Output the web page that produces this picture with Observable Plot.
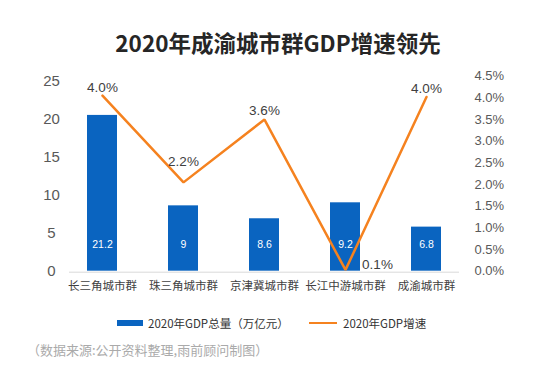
<!DOCTYPE html>
<html>
<head>
<meta charset="utf-8">
<script src="https://cdn.jsdelivr.net/npm/d3@7"></script>
<script src="https://cdn.jsdelivr.net/npm/@observablehq/plot@0.6"></script>
<style>
  html, body { margin: 0; padding: 0; background: #fff; }
  body { width: 541px; height: 374px; overflow: hidden; font-family: "Noto Sans CJK SC", "Noto Sans", sans-serif; }
  #title { height: 62px; box-sizing: border-box; padding-top: 30px; padding-left: 15px; text-align: center; font-size: 22.5px; line-height: 24px; font-weight: 700; color: #262626; }
  #chart { height: 240px; }
  #chart svg { display: block; }
  #legend { position: relative; height: 30px; font-size: 11.5px; color: #333; }
  #legend .item { position: absolute; top: 0; height: 22px; display: flex; align-items: center; white-space: nowrap; }
  #caption { position: absolute; left: 27px; top: 340px; font-size: 13px; color: #aaaaaa; white-space: nowrap; line-height: 20px; }
</style>
</head>
<body>
<div id="title"></div>
<div id="chart"></div>
<div id="legend"></div>
<div id="caption"></div>
<script>
// ---- data ----
const categories = ["长三角城市群", "珠三角城市群", "京津冀城市群", "长江中游城市群", "成渝城市群"];
const gdpBarHeights = [20.5, 8.6, 6.9, 9.0, 5.8];          // bar heights as drawn (万亿元)
const gdpLabels = ["21.2", "9", "8.6", "9.2", "6.8"];       // printed values
const growthPoints = [4.05, 2.05, 3.5, 0.03, 4.02];         // line points as drawn (%)
const growthLabels = ["4.0%", "2.2%", "3.6%", "0.1%", "4.0%"];
const leftTicks = [0, 5, 10, 15, 20, 25];
const rightTicks = [0, 0.5, 1, 1.5, 2, 2.5, 3, 3.5, 4, 4.5];
const rightTickLabels = ["0.0%", "0.5%", "1.0%", "1.5%", "2.0%", "2.5%", "3.0%", "3.5%", "4.0%", "4.5%"];
const titleText = "2020年成渝城市群GDP增速领先";
const legendBar = "2020年GDP总量（万亿元）";
const legendLine = "2020年GDP增速";
const captionText = "（数据来源:公开资料整理,雨前顾问制图）";

// ---- build ----
const yMax = 25.66;
const k = yMax / 4.5; // maps % to left-axis units
const rows = categories.map((c, i) => ({
  cat: c, bar: gdpBarHeights[i], barLabel: gdpLabels[i],
  growth: growthPoints[i], growthLabel: growthLabels[i], i
}));
const axisFont = '"Liberation Sans", Arial, "Noto Sans CJK SC", sans-serif';
const orange = "#f5821f";
const blue = "#0a64c0";

const chart = Plot.plot({
  width: 541,
  height: 240,
  marginLeft: 61.5,
  marginRight: 74.5,
  marginTop: 13.7,
  marginBottom: 31.3,
  style: { fontFamily: axisFont, background: "white", overflow: "visible" },
  x: { domain: categories, paddingInner: 0.63, paddingOuter: 0.315, axis: null },
  y: { domain: [0, yMax], axis: null },
  marks: [
    Plot.barY(rows, { x: "cat", y: "bar", fill: blue }),
    Plot.ruleY([0], { stroke: "#d9d9d9", strokeWidth: 1, insetLeft: 7.5, insetRight: 7.5, dy: 1 }),
    Plot.text(rows, { x: "cat", text: "barLabel", frameAnchor: "bottom", lineAnchor: "middle", dy: -26.4, fill: "white", fontSize: 10.5 }),
    Plot.line(rows, { x: "cat", y: d => d.growth * k, stroke: orange, strokeWidth: 2.5, strokeLinejoin: "miter" }),
    // growth labels: default above the point
    Plot.text(rows.filter(d => d.i === 0 || d.i === 2 || d.i === 4), { x: "cat", y: d => d.growth * k, text: "growthLabel", lineAnchor: "middle", dy: -8.5, fill: "#404040", fontSize: 13.5 }),
    Plot.text(rows.filter(d => d.i === 1), { x: "cat", y: d => d.growth * k, text: "growthLabel", lineAnchor: "middle", dy: -20.7, fill: "#404040", fontSize: 13.5 }),
    Plot.text(rows.filter(d => d.i === 3), { x: "cat", y: d => d.growth * k, text: "growthLabel", lineAnchor: "middle", dx: 32, dy: -5, fill: "#404040", fontSize: 13.5 }),
    // left axis
    Plot.text(leftTicks, { y: d => d, text: d => String(d), frameAnchor: "left", dx: -10.5, textAnchor: "middle", lineAnchor: "middle", fill: "#595959", fontSize: 15 }),
    // right axis
    Plot.text(rightTicks, { y: d => d * k, text: (d, i) => rightTickLabels[i], frameAnchor: "right", dx: 7.5, textAnchor: "start", lineAnchor: "middle", fill: "#595959", fontSize: 13 }),
    // x labels
    Plot.text(categories, { x: d => d, text: d => d, frameAnchor: "bottom", dy: 15.3, lineAnchor: "middle", fill: "#404040", fontSize: 11.5, fontFamily: '"Noto Sans CJK SC", sans-serif' })
  ]
});
document.getElementById("chart").appendChild(chart);

document.getElementById("title").textContent = titleText;
document.getElementById("caption").textContent = captionText;

const legend = document.getElementById("legend");
legend.style.marginTop = "10px";
legend.innerHTML = `
  <div class="item" style="left:117px"><span style="display:inline-block;width:26px;height:6px;background:${blue};margin-right:5px"></span><span>${legendBar}</span></div>
  <div class="item" style="left:309px"><span style="display:inline-block;width:28px;height:2.5px;background:${orange};margin-right:6px"></span><span>${legendLine}</span></div>
`;
</script>
</body>
</html>
